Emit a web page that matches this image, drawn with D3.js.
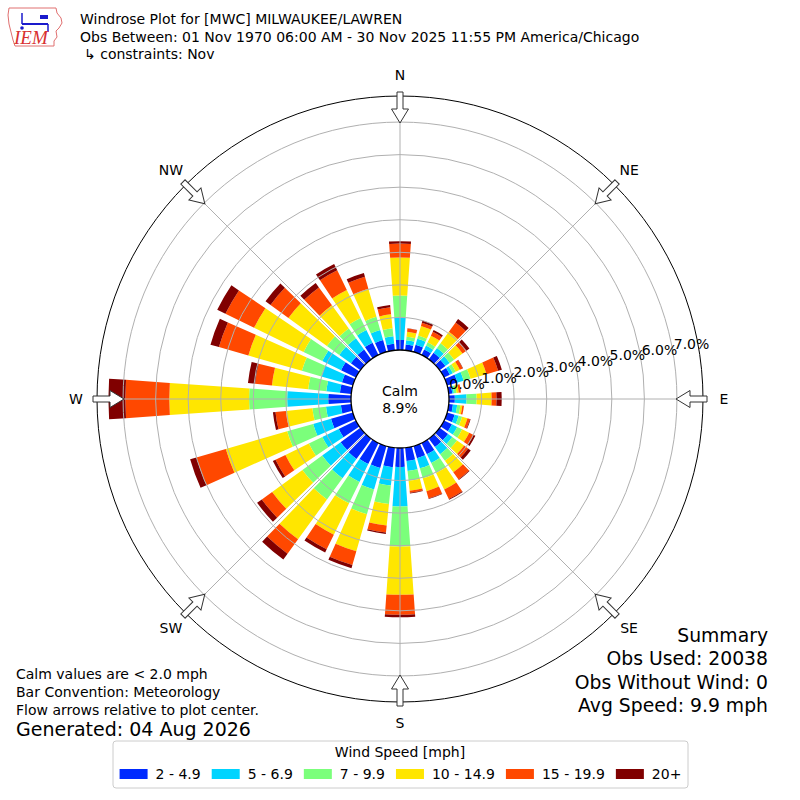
<!DOCTYPE html>
<html>
<head>
<meta charset="utf-8">
<script src="https://cdn.jsdelivr.net/npm/d3@7"></script>
<style>
  body { margin: 0; background: #fff; }
  text { font-family: "DejaVu Sans", sans-serif; fill: #000; }
</style>
</head>
<body>
<div id="chart"></div>
<script>
// Wind directions (deg, where the wind comes from)
const directions = [0, 10, 20, 30, 40, 50, 60, 70, 80, 90, 100, 110, 120, 130, 140, 150, 160, 170,
    180, 190, 200, 210, 220, 230, 240, 250, 260, 270, 280, 290, 300, 310, 320, 330, 340, 350];

const speedBins = ["2 - 4.9", "5 - 6.9", "7 - 9.9", "10 - 14.9", "15 - 19.9", "20+"];
const binColors = ["#002aff", "#00d4ff", "#7bff7b", "#ffe600", "#ff4800", "#800000"];

// Frequency [%] per direction, one array per speed bin
const speed2to5 = [0.31, 0.18, 0.23, 0.19, 0.25, 0.22, 0.20, 0.33, 0.11, 0.18, 0.13, 0.24, 0.27, 0.32, 0.32, 0.38, 0.39, 0.41,
    0.58, 0.60, 0.70, 0.72, 0.77, 0.75, 0.59, 0.70, 0.32, 0.70, 0.35, 0.35, 0.51, 0.36, 0.37, 0.42, 0.38, 0.20];
const speed5to7 = [0.69, 0.13, 0.19, 0.13, 0.18, 0.16, 0.10, 0.20, 0.05, 0.36, 0.13, 0.13, 0.18, 0.16, 0.27, 0.30, 0.32, 0.31,
    1.22, 0.57, 0.69, 0.61, 0.73, 0.70, 0.56, 0.57, 0.46, 1.26, 0.42, 0.66, 0.64, 0.44, 0.43, 0.43, 0.32, 0.23];
const speed7to10 = [0.67, 0.11, 0.10, 0.11, 0.18, 0.17, 0.10, 0.22, 0.08, 0.31, 0.10, 0.11, 0.17, 0.18, 0.25, 0.34, 0.32, 0.30,
    1.23, 0.57, 0.79, 0.73, 0.81, 0.75, 0.46, 0.83, 0.42, 1.17, 0.56, 0.62, 0.64, 0.47, 0.37, 0.41, 0.42, 0.25];
const speed10to15 = [1.17, 0.15, 0.31, 0.23, 0.44, 0.32, 0.14, 0.51, 0.07, 0.46, 0.06, 0.17, 0.24, 0.27, 0.44, 0.57, 0.41, 0.31,
    1.48, 0.66, 1.18, 1.07, 1.51, 1.15, 0.80, 1.96, 0.82, 2.45, 1.12, 1.71, 1.69, 1.46, 0.88, 0.96, 0.90, 0.43];
const speed15to20 = [0.43, 0.10, 0.10, 0.13, 0.35, 0.15, 0.10, 0.37, 0.07, 0.15, 0.05, 0.08, 0.15, 0.15, 0.27, 0.32, 0.23, 0.06,
    0.61, 0.22, 0.44, 0.50, 0.55, 0.39, 0.34, 0.94, 0.32, 1.35, 0.52, 0.94, 0.98, 0.68, 0.68, 0.67, 0.38, 0.22];
const speed20plus = [0.07, 0.01, 0.07, 0.06, 0.13, 0.11, 0.01, 0.12, 0.00, 0.16, 0.00, 0.02, 0.06, 0.10, 0.02, 0.03, 0.02, 0.02,
    0.08, 0.04, 0.10, 0.11, 0.22, 0.18, 0.09, 0.20, 0.08, 0.52, 0.22, 0.27, 0.28, 0.19, 0.17, 0.22, 0.12, 0.07];

const radialTicks = [0, 1, 2, 3, 4, 5, 6, 7];
const compassLabels = ["N", "NE", "E", "SE", "S", "SW", "W", "NW"];
const compassAngles = [0, 45, 90, 135, 180, 225, 270, 315];
const calmPercent = 8.9;

const titleLines = [
    "Windrose Plot for [MWC] MILWAUKEE/LAWREN",
    "Obs Between: 01 Nov 1970 06:00 AM - 30 Nov 2025 11:55 PM America/Chicago",
    "\u21b3 constraints: Nov"
];
const summaryLines = ["Summary", "Obs Used: 20038", "Obs Without Wind: 0", "Avg Speed: 9.9 mph"];
const noteLines = ["Calm values are < 2.0 mph", "Bar Convention: Meteorology", "Flow arrows relative to plot center."];

const w = 800, h = 800, cx = 400, cy = 399;
const rad = d => d * Math.PI / 180;

const svg = d3.select("#chart").append("svg")
    .attr("width", w)
    .attr("height", h);

// stacked table for d3.stack
const keys = ["b0", "b1", "b2", "b3", "b4", "b5"];
const binArrays = [speed2to5, speed5to7, speed7to10, speed10to15, speed15to20, speed20plus];
const table = directions.map((dir, i) => {
    const row = { dir };
    keys.forEach((k, j) => row[k] = binArrays[j][i]);
    return row;
});
const series = d3.stack().keys(keys)(table);

const rScale = d3.scaleLinear().domain([0, 7.8]).range([49, 303]);
const halfWidth = rad(10 * 0.8 / 2);
const arc = d3.arc();

const plot = svg.append("g").attr("transform", `translate(${cx},${cy})`);

// bars
plot.append("g")
    .selectAll("g")
    .data(series)
    .join("g")
    .attr("fill", (d, i) => binColors[i])
    .selectAll("path")
    .data(d => d)
    .join("path")
    .attr("d", d => arc({
        innerRadius: rScale(d[0]),
        outerRadius: rScale(d[1]),
        startAngle: rad(d.data.dir) - halfWidth,
        endAngle: rad(d.data.dir) + halfWidth
    }));

// grid on top of bars
const grid = plot.append("g").attr("fill", "none").attr("stroke", "#b0b0b0").attr("stroke-width", 1);
grid.selectAll("circle")
    .data(radialTicks.slice(1))
    .join("circle")
    .attr("r", d => rScale(d));
grid.selectAll("line")
    .data(compassAngles)
    .join("line")
    .attr("x1", 0).attr("y1", 0)
    .attr("x2", d => rScale(7.8) * Math.sin(rad(d)))
    .attr("y2", d => -rScale(7.8) * Math.cos(rad(d)));

// outer frame and calm circle
plot.append("circle").attr("r", rScale(7.8)).attr("fill", "none").attr("stroke", "#000").attr("stroke-width", 1);
plot.append("circle").attr("r", rScale(0)).attr("fill", "#fff").attr("stroke", "#000").attr("stroke-width", 1.3);

plot.append("text").attr("x", 0).attr("y", -3).attr("text-anchor", "middle")
    .style("font-size", "14px").text("Calm");
plot.append("text").attr("x", 0).attr("y", 14).attr("text-anchor", "middle")
    .style("font-size", "14px").text(`${calmPercent}%`);

// flow arrows
const R = rScale(7.8);
const arrowPath = `M-3,${-R - 4} L3,${-R - 4} L3,${-R + 13} L8.5,${-R + 13} L0,${-R + 27} ` +
    `L-8.5,${-R + 13} L-3,${-R + 13} Z`;
plot.append("g")
    .selectAll("path")
    .data(compassAngles)
    .join("path")
    .attr("d", arrowPath)
    .attr("transform", d => `rotate(${d})`)
    .attr("fill", "#fff")
    .attr("stroke", "#333")
    .attr("stroke-width", 1);

// compass labels
plot.append("g")
    .selectAll("text")
    .data(compassLabels)
    .join("text")
    .attr("x", (d, i) => 324 * Math.sin(rad(compassAngles[i])))
    .attr("y", (d, i) => -324 * Math.cos(rad(compassAngles[i])))
    .attr("text-anchor", "middle")
    .attr("dy", "0.35em")
    .style("font-size", "14px")
    .text(d => d);

// radial tick labels
const labelAngle = rad(10);
plot.append("g")
    .selectAll("text")
    .data(radialTicks)
    .join("text")
    .attr("x", d => rScale(d) * Math.cos(labelAngle) + 1)
    .attr("y", d => -rScale(d) * Math.sin(labelAngle) - 2)
    .style("font-size", "14px")
    .text(d => `${d.toFixed(1)}%`);

// header
svg.append("g")
    .selectAll("text")
    .data(titleLines)
    .join("text")
    .attr("x", (d, i) => i === 2 ? 84 : 80)
    .attr("y", (d, i) => 24 + i * 17.5)
    .style("font-size", "14px")
    .text(d => d);

// IEM logo
const logo = svg.append("g");
logo.append("path")
    .attr("d", "M9,8 L56,8 L57,13 L61,18 L62,23 L59,28 L56,31 L57,37 L54,41 L54,46 L15,46 L13,40 L11,32 L9,24 L8,15 Z")
    .attr("fill", "#fff").attr("stroke", "#e07070").attr("stroke-width", 1);
logo.append("line").attr("x1", 22).attr("y1", 24).attr("x2", 48).attr("y2", 24)
    .attr("stroke", "#1a1acc").attr("stroke-width", 2);
logo.append("line").attr("x1", 22).attr("y1", 13).attr("x2", 22).attr("y2", 24)
    .attr("stroke", "#1a1acc").attr("stroke-width", 1.5);
logo.append("rect").attr("x", 40).attr("y", 15).attr("width", 8).attr("height", 4).attr("fill", "#1a1acc");
logo.append("line").attr("x1", 48).attr("y1", 24).attr("x2", 48).attr("y2", 32)
    .attr("stroke", "#1a1acc").attr("stroke-width", 1.5);
logo.append("circle").attr("cx", 22).attr("cy", 28).attr("r", 1.8).attr("fill", "#1a1acc");
logo.append("text").attr("x", 14).attr("y", 44)
    .style("font-family", "'Liberation Serif', serif").style("font-style", "italic")
    .style("font-size", "19px").style("fill", "#d83030")
    .text("IEM");

// summary block
svg.append("g")
    .selectAll("text")
    .data(summaryLines)
    .join("text")
    .attr("x", 768)
    .attr("y", (d, i) => 642 + i * 23.3)
    .attr("text-anchor", "end")
    .style("font-size", "18.8px")
    .text(d => d);

// notes
svg.append("g")
    .selectAll("text")
    .data(noteLines)
    .join("text")
    .attr("x", 16)
    .attr("y", (d, i) => 679 + i * 18)
    .style("font-size", "14px")
    .text(d => d);
svg.append("text").attr("x", 16).attr("y", 736).style("font-size", "19px").text("Generated: 04 Aug 2026");

// legend
const legend = svg.append("g");
legend.append("rect")
    .attr("x", 113).attr("y", 741).attr("width", 575).attr("height", 47)
    .attr("rx", 3)
    .attr("fill", "#fff").attr("stroke", "#cccccc");
legend.append("text").attr("x", 400).attr("y", 757).attr("text-anchor", "middle")
    .style("font-size", "14px").text("Wind Speed [mph]");

const items = legend.selectAll("g.item").data(speedBins).join("g").attr("class", "item");
items.append("rect").attr("width", 28).attr("height", 10).attr("y", 769).attr("fill", (d, i) => binColors[i]);
items.append("text").attr("y", 779).style("font-size", "14px").text(d => d);

let x = 0;
const pos = [];
items.each(function () {
    const tw = d3.select(this).select("text").node().getComputedTextLength();
    pos.push(x);
    x += 28 + 8 + tw + 11;
});
const total = x - 11;
const startX = 400.5 - total / 2;
items.each(function (d, i) {
    const g = d3.select(this);
    g.select("rect").attr("x", startX + pos[i]);
    g.select("text").attr("x", startX + pos[i] + 36);
});
</script>
</body>
</html>
